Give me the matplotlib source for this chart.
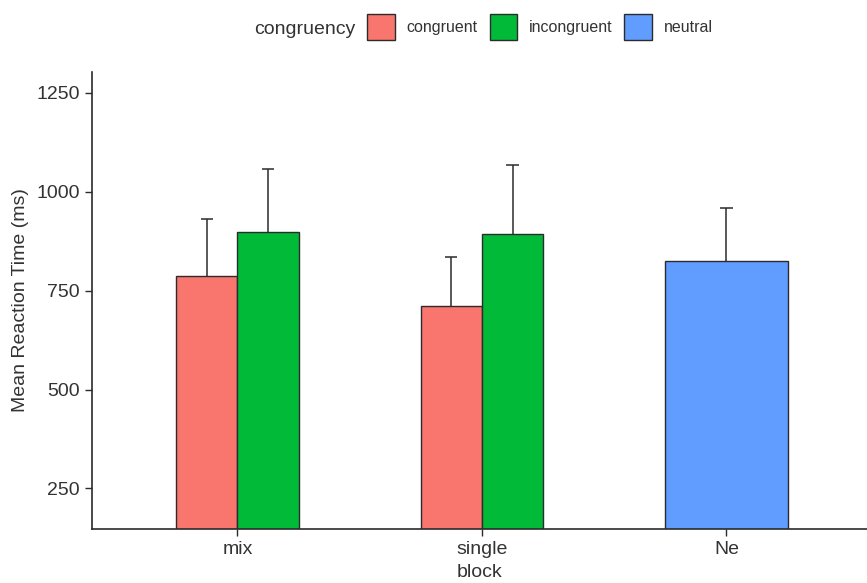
import matplotlib
matplotlib.use('Agg')
import matplotlib.pyplot as plt
from matplotlib.patches import Patch

plt.rcParams['font.family'] = ['Liberation Sans', 'DejaVu Sans']

# Data
blocks = ['mix', 'single', 'Ne']
congruent_mean = [788, 711]
congruent_err = [144, 124]
incongruent_mean = [898, 894]
incongruent_err = [159, 173]
neutral_mean = [824]
neutral_err = [134]

colors = {'congruent': '#F8766D', 'incongruent': '#00BA38', 'neutral': '#619CFF'}
edge = '#2b2b2b'
text_col = '#333333'

fig = plt.figure(figsize=(8.67, 5.83), dpi=100)
ax = fig.add_axes([92 / 867, 54 / 583, 775 / 867, 457 / 583])

w = 0.25
x_c = [0 - w / 2, 1 - w / 2]
x_i = [0 + w / 2, 1 + w / 2]
x_n = [2]

ax.bar(x_c, congruent_mean, width=w, color=colors['congruent'], edgecolor=edge, linewidth=1, zorder=2)
ax.bar(x_i, incongruent_mean, width=w, color=colors['incongruent'], edgecolor=edge, linewidth=1, zorder=2)
ax.bar(x_n, neutral_mean, width=2 * w, color=colors['neutral'], edgecolor=edge, linewidth=1, zorder=2)

# upper-only error bars
cap = 0.025
for xs, m, e in [(x_c, congruent_mean, congruent_err),
                 (x_i, incongruent_mean, incongruent_err),
                 (x_n, neutral_mean, neutral_err)]:
    tops = [a + b for a, b in zip(m, e)]
    ax.vlines(xs, m, tops, color=edge, linewidth=1.1, zorder=1)
    ax.hlines(tops, [x - cap for x in xs], [x + cap for x in xs], color=edge, linewidth=1.1, zorder=1)

ax.set_xlim(-0.595, 2.575)
ax.set_ylim(147.5, 1302.5)
ax.set_xticks(range(len(blocks)))
ax.set_xticklabels(blocks)
ax.set_yticks([250, 500, 750, 1000, 1250])

for s in ['top', 'right']:
    ax.spines[s].set_visible(False)
for s in ['left', 'bottom']:
    ax.spines[s].set_color(edge)
    ax.spines[s].set_linewidth(1.2)

ax.tick_params(axis='both', labelsize=14, colors=edge, labelcolor=text_col, length=5, width=1, pad=4)
ax.set_xlabel('block', fontsize=14, color=text_col, labelpad=4)
ax.set_ylabel('Mean Reaction Time (ms)', fontsize=14, color=text_col, labelpad=5)

handles = [Patch(facecolor=colors[k], edgecolor=edge, linewidth=1) for k in colors]
fig.legend(handles, list(colors.keys()), loc='center', bbox_to_anchor=(540 / 867, 1 - 27 / 583),
           ncol=3, frameon=False, fontsize=11.5, handlelength=1.7, handleheight=2.2,
           handletextpad=0.75, columnspacing=0.75, labelcolor=text_col)
fig.text(355 / 867, 1 - 29 / 583, 'congruency', fontsize=14, color=text_col, ha='right', va='center')

fig.savefig('out.png', dpi=100)
